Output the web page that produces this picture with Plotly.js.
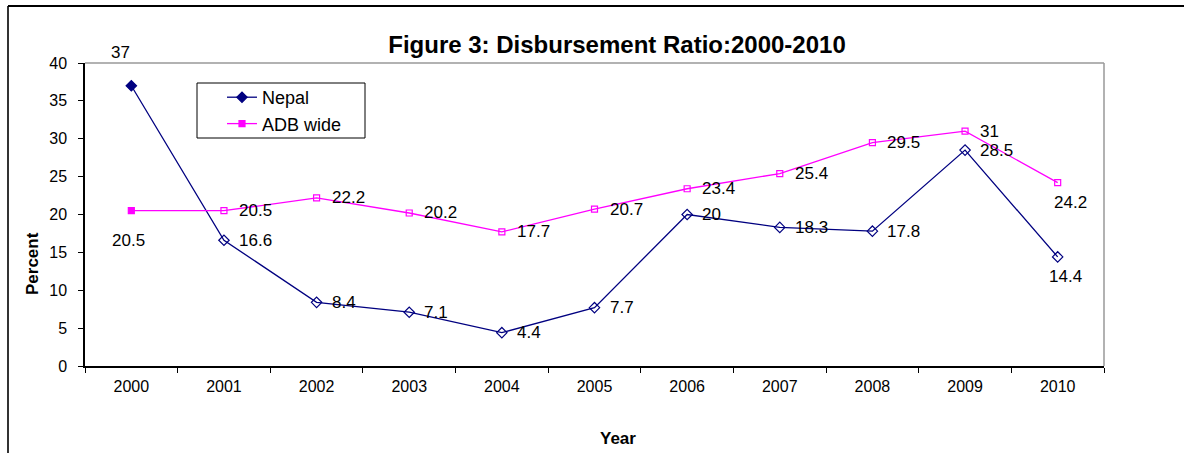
<!DOCTYPE html>
<html>
<head>
<meta charset="utf-8">
<script src="https://cdn.plot.ly/plotly-3.0.1.min.js"></script>
<style>
html,body{margin:0;padding:0;background:#fff;}
#chart{width:1184px;height:453px;}
</style>
</head>
<body>
<div id="chart"></div>
<script>
// ---- data ----
var years = ['2000','2001','2002','2003','2004','2005','2006','2007','2008','2009','2010'];
var nepal = [37, 16.6, 8.4, 7.1, 4.4, 7.7, 20, 18.3, 17.8, 28.5, 14.4];
var adb = [20.5, 20.5, 22.2, 20.2, 17.7, 20.7, 23.4, 25.4, 29.5, 31, 24.2];
var yTicks = [0, 5, 10, 15, 20, 25, 30, 35, 40];

// label placement codes (style only)
var nepalPos = ['tl','r','r','r','r','r','r','r','r','r','b'];
var adbPos   = ['bl','r','r','r','r','r','r','r','r','r','br'];

var FONT = 'Liberation Sans, Arial, Helvetica, sans-serif';
var NAVY = '#000080', MAG = '#ff00ff';

function makeLabels(vals, pos) {
  var out = [];
  for (var i = 0; i < vals.length; i++) {
    var a = {x: i, y: vals[i], xref: 'x', yref: 'y', text: String(vals[i]), showarrow: false,
             font: {family: FONT, size: 17, color: '#000'}, yanchor: 'middle'};
    var p = pos[i];
    if (p === 'r') { a.xanchor = 'left'; a.xshift = 13; }
    else if (p === 'tl') { a.xanchor = 'center'; a.xshift = -11; a.yshift = 33; }
    else if (p === 'bl') { a.xanchor = 'center'; a.xshift = -3; a.yshift = -30; }
    else if (p === 'br') { a.xanchor = 'center'; a.xshift = 13; a.yshift = -20; }
    else { a.xanchor = 'center'; a.xshift = 8; a.yshift = -20; }
    out.push(a);
  }
  return out;
}

var nepalSym = nepal.map(function (v, i) { return i === 0 ? 'diamond' : 'diamond-open'; });
var adbSym = adb.map(function (v, i) { return i === 0 ? 'square' : 'square-open'; });

var traces = [
  {x: years, y: nepal, name: 'Nepal', type: 'scatter', mode: 'lines+markers',
   line: {color: NAVY, width: 1.3},
   marker: {symbol: nepalSym, size: 8, color: NAVY, line: {color: NAVY, width: 1.2}}},
  {x: years, y: adb, name: 'ADB wide', type: 'scatter', mode: 'lines+markers',
   line: {color: MAG, width: 1.3},
   marker: {symbol: adbSym, size: 6, color: MAG, line: {color: MAG, width: 1.2}}}
];

var L = 85, T = 63, R = 1104, B = 366, W = 1184, H = 453;
var pw = R - L, ph = B - T;
function px(x) { return (x - L) / pw; }
function py(y) { return (B - y) / ph; }

var annotations = makeLabels(nepal, nepalPos).concat(makeLabels(adb, adbPos));
annotations.push({xref: 'paper', yref: 'paper', x: px(32), y: py(264), text: '<b>Percent</b>',
  textangle: -90, showarrow: false, xanchor: 'center', yanchor: 'middle',
  font: {family: FONT, size: 17, color: '#000'}});
annotations.push({xref: 'paper', yref: 'paper', x: px(618), y: py(438), text: '<b>Year</b>',
  showarrow: false, xanchor: 'center', yanchor: 'middle',
  font: {family: FONT, size: 17, color: '#000'}});

var layout = {
  width: W, height: H,
  margin: {l: L, r: W - R, t: T, b: H - B, pad: 0},
  paper_bgcolor: '#fff', plot_bgcolor: '#fff',
  showlegend: true,
  title: {text: '<b>Figure 3: Disbursement Ratio:2000-2010</b>', xref: 'container', yref: 'container',
          x: 617 / W, y: (H - 45) / H, xanchor: 'center', yanchor: 'middle',
          font: {family: FONT, size: 24, color: '#000'}},
  xaxis: {type: 'category', range: [-0.5, 10.5], showgrid: false, zeroline: false,
          showline: true, linecolor: '#000', linewidth: 1.5,
          ticks: 'outside', tickson: 'boundaries', ticklen: 5, tickcolor: '#000', tickwidth: 1,
          ticklabelstandoff: 5,
          tickfont: {family: FONT, size: 16, color: '#000'}, fixedrange: true},
  yaxis: {range: [0, 40], tickvals: yTicks, showgrid: false, zeroline: false,
          showline: true, linecolor: '#000', linewidth: 1.5,
          ticks: 'outside', ticklen: 5, tickcolor: '#000', tickwidth: 1,
          ticklabelstandoff: 8,
          tickfont: {family: FONT, size: 16, color: '#000'}, fixedrange: true},
  legend: {x: px(222), y: py(79), xanchor: 'left', yanchor: 'top',
           borderwidth: 0, bgcolor: 'rgba(0,0,0,0)',
           font: {family: FONT, size: 18, color: '#000'}, tracegroupgap: 0},
  annotations: annotations,
  shapes: [
    {type: 'line', xref: 'paper', yref: 'paper', x0: 0, x1: 1, y0: 1, y1: 1, line: {color: '#999', width: 1.5}},
    {type: 'line', xref: 'paper', yref: 'paper', x0: 1, x1: 1, y0: 0, y1: 1, line: {color: '#999', width: 1.5}},
    {type: 'rect', xref: 'paper', yref: 'paper', x0: px(197), x1: px(365), y0: py(83), y1: py(138),
     line: {color: '#000', width: 1}, fillcolor: 'rgba(0,0,0,0)', layer: 'below'},
    {type: 'line', xref: 'paper', yref: 'paper', x0: px(8), x1: px(8), y0: py(6), y1: py(H + 2), line: {color: '#333', width: 2}},
    {type: 'line', xref: 'paper', yref: 'paper', x0: px(8), x1: px(W + 2), y0: py(6), y1: py(6), line: {color: '#000', width: 2}}
  ]
};

Plotly.newPlot('chart', traces, layout, {displayModeBar: false});
</script>
</body>
</html>
